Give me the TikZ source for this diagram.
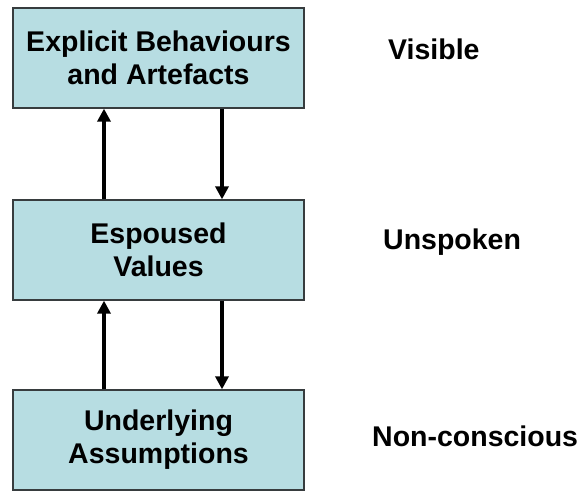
\documentclass[tikz,border=0pt]{standalone}
\usepackage{fontspec}
\setmainfont{Liberation Sans}
\usetikzlibrary{arrows.meta}
\definecolor{boxfill}{RGB}{183,221,226}
\definecolor{boxline}{RGB}{55,60,62}
\begin{document}
\begin{tikzpicture}[x=1pt,y=1pt,
  layerbox/.style={draw=boxline, line width=1.3pt, fill=boxfill, rectangle,
    minimum width=291pt, minimum height=100pt, inner sep=0pt, align=center,
    font=\fontsize{28.5}{33}\selectfont\bfseries},
  sidelabel/.style={anchor=base west, inner sep=0pt,
    font=\fontsize{28.5}{33}\selectfont\bfseries},
  arr/.style={line width=4pt, -{Triangle[width=13pt,length=13pt]}}]
\useasboundingbox (0,0) rectangle (581,491);
\node[layerbox] (top) at (158.5,433) {Explicit Behaviours\\and Artefacts};
\node[layerbox] (mid) at (158.5,241) {Espoused\\Values};
\node[layerbox] (bot) at (158.5,51) {Underlying\\Assumptions};
\node[sidelabel] (vis) at (388,431) {Visible};
\node[sidelabel] (uns) at (383,242) {Unspoken};
\node[sidelabel] (non) at (372,45) {Non-conscious};
\draw[arr] ([xshift=-54.5pt]mid.north) -- ([xshift=-54.5pt]top.south);
\draw[arr] ([xshift=63.5pt]top.south) -- ([xshift=63.5pt]mid.north);
\draw[arr] ([xshift=-54.5pt]bot.north) -- ([xshift=-54.5pt]mid.south);
\draw[arr] ([xshift=63.5pt]mid.south) -- ([xshift=63.5pt]bot.north);
\end{tikzpicture}
\end{document}
